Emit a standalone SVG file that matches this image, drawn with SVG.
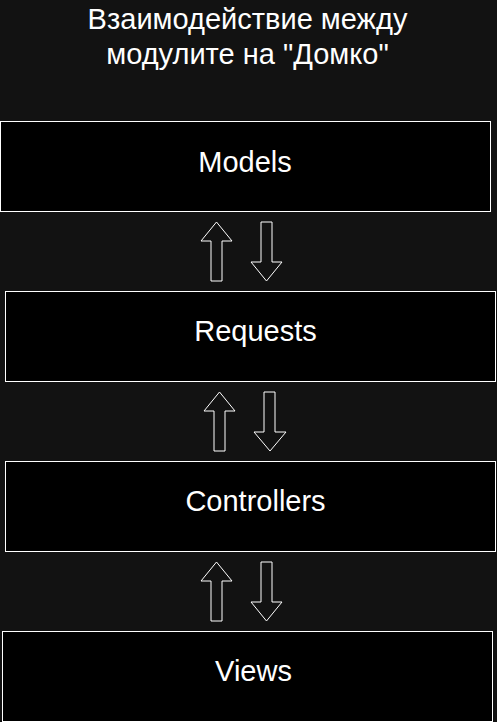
<svg xmlns="http://www.w3.org/2000/svg" width="497" height="722" viewBox="0 0 497 722">
<style>
.box{fill:#000;stroke:#fff;stroke-width:1}
.lbl{font-family:"Liberation Sans",Arial,sans-serif;font-size:29px;fill:#fff;text-anchor:middle}
.ttl{font-family:"Liberation Sans",Arial,sans-serif;font-size:29px;fill:#fff;text-anchor:middle}
.arr{fill:none;stroke:#fff;stroke-width:1;stroke-linejoin:miter}
</style>
<rect width="497" height="722" fill="#121212"/>
<g id="title">
<text class="ttl" x="247.5" y="28.5">Взаимодействие между</text>
<text class="ttl" x="247.5" y="63.5">модулите на "Домко"</text>
</g>
<g id="models"><rect class="box" x="0.5" y="121.5" width="490" height="90"/><text class="lbl" x="245" y="171.5">Models</text></g>
<g id="requests"><rect class="box" x="5.5" y="291.5" width="490" height="90"/><text class="lbl" x="255.5" y="341">Requests</text></g>
<g id="controllers"><rect class="box" x="5.5" y="461.5" width="490" height="90"/><text class="lbl" x="255.5" y="511">Controllers</text></g>
<g id="views"><rect class="box" x="2.5" y="631.5" width="490" height="90"/><text class="lbl" x="253.5" y="681">Views</text></g>
<g id="connectors">
<path class="arr" d="M216.5,222 L232,241 L222,241 L222,281 L211,281 L211,241 L201,241 Z"/>
<path class="arr" d="M261,222 L272,222 L272,262 L282,262 L266.5,281 L251,262 L261,262 Z"/>
<path class="arr" d="M219.5,392 L235,411 L225,411 L225,451 L214,451 L214,411 L204,411 Z"/>
<path class="arr" d="M264,392 L275,392 L275,432 L286,432 L270,451 L254,432 L264,432 Z"/>
<path class="arr" d="M216.5,562 L232,581 L222,581 L222,621 L211,621 L211,581 L201,581 Z"/>
<path class="arr" d="M261,562 L272,562 L272,602 L282,602 L266.5,621 L251,602 L261,602 Z"/>
</g>
</svg>
